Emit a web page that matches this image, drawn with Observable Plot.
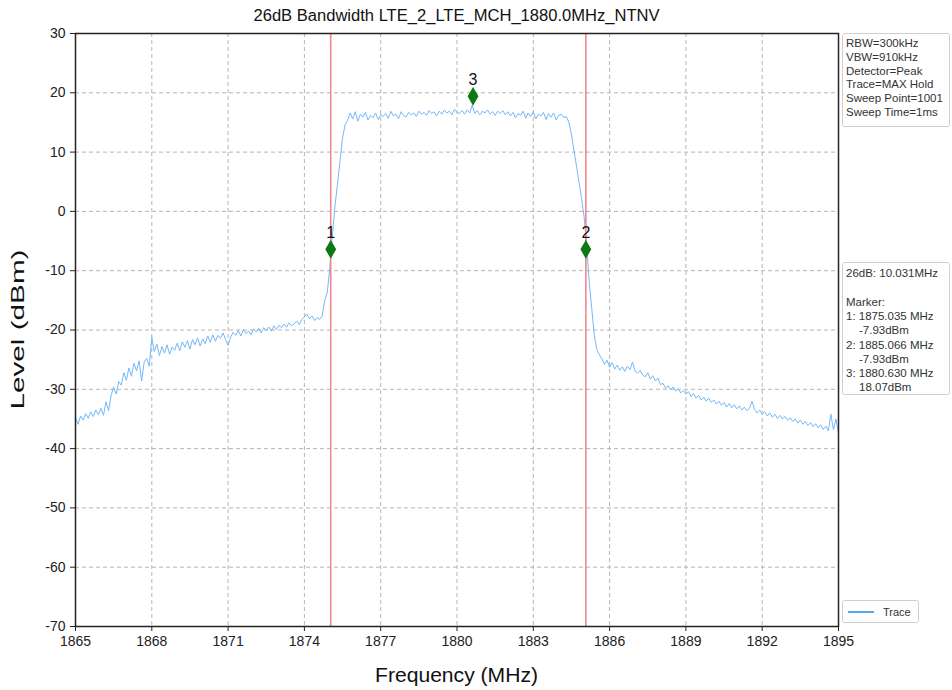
<!DOCTYPE html>
<html>
<head>
<meta charset="utf-8">
<script src="https://cdn.jsdelivr.net/npm/d3@7"></script>
<script src="https://cdn.jsdelivr.net/npm/@observablehq/plot@0.6"></script>
<style>
  html, body { margin: 0; padding: 0; background: #fff; }
  #chart { width: 952px; height: 690px; }
</style>
</head>
<body>
<div id="chart"></div>
<script>
// ---- Data ----
const titleText = "26dB Bandwidth LTE_2_LTE_MCH_1880.0MHz_NTNV";
const xLabel = "Frequency (MHz)";
const yLabel = "Level (dBm)";
const xTicks = [1865, 1868, 1871, 1874, 1877, 1880, 1883, 1886, 1889, 1892, 1895];
const yTicks = [-70, -60, -50, -40, -30, -20, -10, 0, 10, 20, 30];

// Trace sweep: start frequency and step (MHz), levels in dBm
const freqStart = 1865;
const freqStep = 0.1;
const level = [
  -34.8,-35.9,-34.5,-35.2,-34.1,-34.9,-33.8,-34.6,-33.5,-34.3,-33.2,
  -34.4,-32.1,-33.6,-31.0,-29.6,-30.8,-28.7,-29.3,-27.2,-28.5,
  -26.4,-27.8,-25.6,-26.9,-25.2,-28.6,-25.4,-24.8,-26.1,-21.3,
  -23.6,-22.4,-24.3,-22.8,-23.9,-22.5,-24.1,-22.9,-23.4,-22.2,
  -23.5,-22.0,-22.9,-21.8,-23.2,-21.6,-22.5,-21.3,-22.7,-21.5,
  -22.3,-21.0,-22.1,-20.8,-21.9,-20.9,-21.4,-20.5,-21.6,-22.6,
  -21.2,-20.4,-20.9,-20.1,-21.0,-19.9,-20.6,-20.2,-20.8,-19.8,
  -20.3,-19.7,-20.5,-19.6,-20.1,-19.5,-20.2,-19.3,-19.9,-19.2,
  -19.6,-19.0,-19.5,-18.8,-19.3,-18.9,-18.5,-19.1,-18.2,-17.8,
  -17.3,-18.1,-17.6,-18.4,-17.9,-18.2,
  -17.6,-15.0,-13.6,-9.5,-4.0,0.8,4.6,8.5,12.4,14.6,15.4,16.6,
  15.6,16.8,15.2,16.4,15.9,16.7,15.4,16.2,15.8,16.6,15.5,16.3,
  16.0,16.5,15.7,16.9,16.1,16.4,15.6,16.8,16.2,15.9,16.7,16.3,
  16.6,16.0,16.9,16.4,16.7,16.2,17.0,16.5,16.8,16.1,16.9,16.4,
  17.1,16.6,16.9,16.3,17.2,16.7,16.5,17.0,16.4,17.1,16.6,17.9,
  16.5,17.0,16.3,16.9,16.6,17.1,16.4,16.8,16.2,16.9,16.5,17.0,
  16.3,16.8,16.1,16.7,15.8,16.5,16.2,16.9,15.7,16.6,16.0,16.8,
  15.6,16.4,16.1,16.7,15.5,16.5,15.9,16.6,15.4,16.2,
  16.4,15.8,16.0,15.0,13.0,10.2,7.6,4.8,2.2,-1.0,-6.0,-12.0,-16.5,-21.0,
  -23.3,-24.2,-24.9,-25.8,-25.1,-26.3,
  -25.5,-26.6,-25.9,-26.8,-26.2,-27.0,-26.1,-26.7,-25.4,-26.9,
  -27.3,-26.8,-27.6,-27.9,-27.2,-28.3,-27.7,-28.6,-28.1,-29.2,
  -29.0,-29.8,-29.4,-30.1,-29.6,-30.3,-29.9,-30.6,-30.2,-30.8,
  -30.4,-31.2,-30.7,-31.5,-31.0,-31.8,-31.3,-32.0,-31.5,-32.2,
  -31.8,-32.5,-32.0,-32.7,-32.2,-33.0,-32.4,-33.1,-32.6,-33.3,
  -32.8,-33.5,-33.0,-33.6,-33.2,-32.0,-33.4,-34.0,-33.5,-34.2,
  -33.8,-34.5,-34.0,-34.7,-34.2,-34.9,-34.4,-35.0,-34.6,-35.2,
  -34.8,-35.4,-35.0,-35.7,-35.2,-35.9,-35.4,-36.1,-35.6,-36.3,
  -35.8,-36.5,-36.0,-36.8,-36.2,-37.0,-34.2,-36.8,-35.0,-37.4
];

// Band edges (red lines) and markers
const edgeFreq = [1875.035, 1885.066];
const markerName = ["1", "2", "3"];
const markerFreq = [1875.035, 1885.066, 1880.630];
const markerLevel = [-6.4, -6.4, 19.4];

// Side panel texts
const settingsText = ["RBW=300kHz", "VBW=910kHz", "Detector=Peak", "Trace=MAX Hold", "Sweep Point=1001", "Sweep Time=1ms"];
const resultText = ["26dB: 10.031MHz", "", "Marker:", "1: 1875.035 MHz", "   -7.93dBm", "2: 1885.066 MHz", "   -7.93dBm", "3: 1880.630 MHz", "   18.07dBm"];
const legendLabel = "Trace";

// ---- Build tables ----
const trace = level.map((v, i) => ({freq: freqStart + i * freqStep, level: v}));
const markers = markerName.map((n, i) => ({name: n, freq: markerFreq[i], level: markerLevel[i]}));

const FONT = "'Liberation Sans', Arial, sans-serif";
const traceColor = "#74b9f7";
const edgeColor = "#f08a8a";
const markerColor = "#0b7a12";

const W = 952, H = 690;
const mL = 75, mR = 114, mT = 33, mB = 64;

const chart = Plot.plot({
  width: W,
  height: H,
  marginLeft: mL,
  marginRight: mR,
  marginTop: mT,
  marginBottom: mB,
  style: {fontFamily: FONT, fontSize: "14px", background: "#fff", color: "#222"},
  x: {domain: [1865, 1895], label: null},
  y: {domain: [-70, 30], label: null},
  marks: [
    Plot.gridX(xTicks, {stroke: "#b4b4b4", strokeOpacity: 1, strokeDasharray: "4,3"}),
    Plot.gridY(yTicks, {stroke: "#b4b4b4", strokeOpacity: 1, strokeDasharray: "4,3"}),
    Plot.axisX({ticks: xTicks, tickFormat: d => String(d), tickSize: 5, tickPadding: 5, label: null, fontSize: 14}),
    Plot.axisY({ticks: yTicks, tickFormat: d => String(d), tickSize: 5, tickPadding: 5, label: null, fontSize: 14}),
    Plot.line(trace, {x: "freq", y: "level", stroke: traceColor, strokeWidth: 1}),
    Plot.ruleX(edgeFreq, {stroke: edgeColor, strokeWidth: 1.6}),
    Plot.dot(markers, {x: "freq", y: "level", symbol: "diamond", r: 4.8, fill: markerColor, stroke: markerColor}),
    Plot.text(markers, {x: "freq", y: "level", text: "name", dy: -16, fontSize: 16, fill: "#111"}),
    Plot.frame({stroke: "#222", strokeWidth: 1.5})
  ]
});

document.getElementById("chart").appendChild(chart);

// ---- Title, axis labels, side panels ----
const svg = d3.select(chart);
const plotCx = mL + (W - mL - mR) / 2;

svg.append("text")
  .attr("x", plotCx).attr("y", 21)
  .attr("text-anchor", "middle")
  .attr("font-family", FONT).attr("font-size", 16).attr("fill", "#111")
  .attr("textLength", 406).attr("lengthAdjust", "spacingAndGlyphs")
  .text(titleText);

svg.append("text")
  .attr("x", plotCx).attr("y", 682)
  .attr("text-anchor", "middle")
  .attr("font-family", FONT).attr("font-size", 20).attr("fill", "#111")
  .attr("textLength", 163).attr("lengthAdjust", "spacingAndGlyphs")
  .text(xLabel);

svg.append("text")
  .attr("transform", `translate(24, ${mT + (H - mT - mB) / 2}) rotate(-90)`)
  .attr("text-anchor", "middle")
  .attr("font-family", FONT).attr("font-size", 18).attr("fill", "#111")
  .attr("textLength", 160).attr("lengthAdjust", "spacingAndGlyphs")
  .text(yLabel);

// Settings box
svg.append("rect")
  .attr("x", 842.5).attr("y", 33.5).attr("width", 107).attr("height", 93)
  .attr("rx", 2).attr("fill", "#fff").attr("stroke", "#cfcfcf");
svg.append("g").attr("text-anchor", "start").selectAll("text").data(settingsText).join("text")
  .attr("x", 846).attr("y", (d, i) => 47 + i * 13.8)
  .attr("text-anchor", "start")
  .attr("font-family", FONT).attr("font-size", 11.5).attr("fill", "#333")
  .text(d => d);

// Result box
svg.append("rect")
  .attr("x", 842.5).attr("y", 262.5).attr("width", 107).attr("height", 132)
  .attr("rx", 2).attr("fill", "#fff").attr("stroke", "#cfcfcf");
svg.append("g").attr("text-anchor", "start").selectAll("text").data(resultText).join("text")
  .attr("x", d => d.startsWith("   ") ? 859 : 846)
  .attr("y", (d, i) => 277 + i * 14.3)
  .attr("text-anchor", "start")
  .attr("font-family", FONT).attr("font-size", 11.5).attr("fill", "#333")
  .text(d => d.trim());

// Legend box
svg.append("rect")
  .attr("x", 842.5).attr("y", 600.5).attr("width", 76).attr("height", 22)
  .attr("rx", 2).attr("fill", "#fff").attr("stroke", "#cfcfcf");
svg.append("line")
  .attr("x1", 848).attr("x2", 874).attr("y1", 612).attr("y2", 612)
  .attr("stroke", "#55aaf5").attr("stroke-width", 2);
svg.append("text")
  .attr("x", 883).attr("y", 616)
  .attr("text-anchor", "start")
  .attr("font-family", FONT).attr("font-size", 11).attr("fill", "#333")
  .text(legendLabel);
</script>
</body>
</html>
